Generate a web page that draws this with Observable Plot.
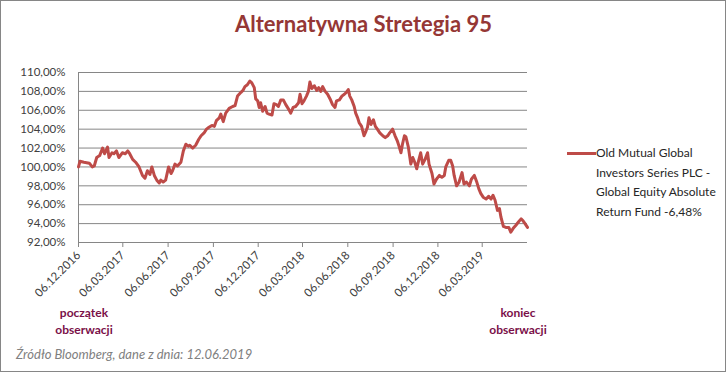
<!DOCTYPE html>
<html>
<head>
<meta charset="utf-8">
<script src="https://cdn.jsdelivr.net/npm/d3@7"></script>
<script src="https://cdn.jsdelivr.net/npm/@observablehq/plot@0.6"></script>
<style>
  html, body { margin: 0; padding: 0; background: #fff; }
  #wrap { position: relative; width: 727px; height: 373px; overflow: hidden; font-family: Lato, "Open Sans", sans-serif; }
  #frame { position: absolute; left: 0; top: 0; width: 724px; height: 370px; border: 1px solid #868686; box-sizing: content-box; pointer-events: none; }
  #chart { position: absolute; left: 0; top: 0; }
  .t { position: absolute; white-space: nowrap; }
  #title { left: 0; width: 727px; top: 10px; text-align: center; color: #953735; font-weight: 700; font-size: 22px; }
  #legend { left: 596px; top: 143px; font-size: 12px; line-height: 19.5px; color: #262626; }
  #legline { position: absolute; left: 567px; top: 152px; width: 29px; height: 3px; background: #BE4B48; }
  .obs { color: #7A1048; font-weight: 700; font-size: 12px; line-height: 17px; text-align: center; }
  #start { left: 44px; top: 304px; width: 80px; }
  #end { left: 478px; top: 304px; width: 80px; }
  #src { left: 16px; top: 346px; font-style: italic; color: #808080; font-size: 13px; }
</style>
</head>
<body>
<div id="wrap">
  <div id="chart"></div>
  <div id="frame"></div>
  <div class="t" id="title">Alternatywna Stretegia 95</div>
  <div id="legline"></div>
  <div class="t" id="legend">Old Mutual Global<br>Investors Series PLC -<br>Global Equity Absolute<br>Return Fund -6,48%</div>
  <div class="t obs" id="start">początek<br>obserwacji</div>
  <div class="t obs" id="end">koniec<br>obserwacji</div>
  <div class="t" id="src">Źródło Bloomberg, dane z dnia: 12.06.2019</div>
</div>
<script>
// Days after 06.12.2016
const dayOffsets = [0,3,11,22,28,32,37,43,49,53,59,62,68,72,77,82,89,95,100,104,110,116,123,130,135,140,145,149,154,159,164,167,172,177,183,188,191,196,201,208,213,218,223,226,232,238,244,249,255,260,265,271,276,280,286,289,294,299,306,313,318,323,330,334,338,343,348,352,357,360,364,367,370,374,379,383,387,393,397,402,406,411,416,421,427,431,436,441,447,450,454,458,463,467,470,474,479,484,488,492,496,501,506,511,516,521,524,530,535,540,544,548,551,555,560,563,567,570,575,580,584,587,590,594,599,603,607,612,618,623,628,632,638,643,648,651,655,658,662,665,670,675,679,683,687,691,695,699,704,709,712,718,722,727,733,738,743,746,752,756,760,763,768,773,779,783,788,794,798,804,809,813,817,822,828,833,838,842,846,851,855,858,863,868,874,878,883,888,894,899,903,907,912];
const values = [100.0,100.6,100.5,100.4,100.0,100.1,101.0,101.2,102.0,101.4,102.1,101.0,101.5,101.4,101.7,101.0,101.5,101.4,101.7,101.4,100.8,100.5,100.0,99.1,98.8,99.6,99.2,100.0,99.1,98.6,98.3,98.6,98.4,98.6,100.0,99.3,99.6,100.3,100.1,100.5,101.7,102.4,102.2,102.3,102.0,102.3,102.9,103.3,103.6,104.0,104.2,104.4,104.3,104.9,105.2,105.6,104.8,105.7,106.2,106.4,106.5,107.5,107.9,108.1,108.5,108.7,109.1,108.9,108.4,107.2,107.0,106.3,106.8,105.9,106.4,105.7,105.6,105.5,106.7,106.6,106.4,107.1,107.1,106.6,106.1,105.7,106.3,106.4,106.8,107.7,106.7,107.0,107.5,108.0,109.0,108.3,108.6,108.1,108.4,108.0,108.5,108.0,107.7,107.2,106.6,106.3,107.0,107.1,107.5,107.7,107.9,108.2,107.5,107.1,106.4,105.7,105.2,104.7,104.3,103.3,103.8,104.2,105.2,104.5,105.0,104.3,104.0,103.6,103.3,103.1,103.3,103.6,104.0,103.3,102.7,102.2,101.5,102.4,103.3,103.2,102.1,100.3,101.0,100.5,99.8,100.7,101.5,100.3,100.8,101.5,100.3,99.3,98.2,98.7,99.1,98.9,99.1,100.0,100.7,100.7,100.1,99.1,98.0,98.4,99.4,98.2,98.4,98.0,98.7,99.1,98.4,97.7,97.2,96.8,96.6,96.9,96.6,97.0,96.5,95.4,95.6,94.7,93.7,93.6,93.6,93.1,93.5,93.8,94.2,94.5,94.3,94.0,93.6];
const tickLabels = ["06.12.2016","06.03.2017","06.06.2017","06.09.2017","06.12.2017","06.03.2018","06.06.2018","06.09.2018","06.12.2018","06.03.2019"];
const yTicks = [92,94,96,98,100,102,104,106,108,110];

const start = new Date(Date.UTC(2016, 11, 6));
const parse = d3.utcParse("%d.%m.%Y");
const tickDates = tickLabels.map(parse);
const data = dayOffsets.map((d, i) => ({date: d3.utcDay.offset(start, d), value: values[i]}));
const end = data[data.length - 1].date;
const fmtY = v => v.toFixed(2).replace(".", ",") + "%";

const chart = Plot.plot({
  width: 727, height: 373,
  marginLeft: 78, marginRight: 200, marginTop: 72, marginBottom: 131,
  x: {type: "utc", domain: [start, end]},
  y: {domain: [92, 110]},
  style: {fontFamily: "Lato, 'Open Sans', sans-serif", fontSize: "11.5px", color: "#404040", background: "transparent", overflow: "visible"},
  marks: [
    Plot.gridY(yTicks, {stroke: "#868686", strokeOpacity: 1, strokeWidth: 1}),
    Plot.ruleX([start], {stroke: "#868686"}),
    Plot.axisY(yTicks, {tickSize: 0, tickPadding: 13, tickFormat: fmtY, label: null, fill: "#404040"}),
    Plot.axisX(tickDates, {tickSize: 5, tickPadding: 6, tickRotate: -45, tickFormat: d3.utcFormat("%d.%m.%Y"), label: null, stroke: "#868686", fill: "#404040"}),
    Plot.lineY(data, {x: "date", y: "value", stroke: "#BE4B48", strokeWidth: 3, strokeLinejoin: "round"})
  ]
});
document.getElementById("chart").appendChild(chart);
</script>
</body>
</html>
